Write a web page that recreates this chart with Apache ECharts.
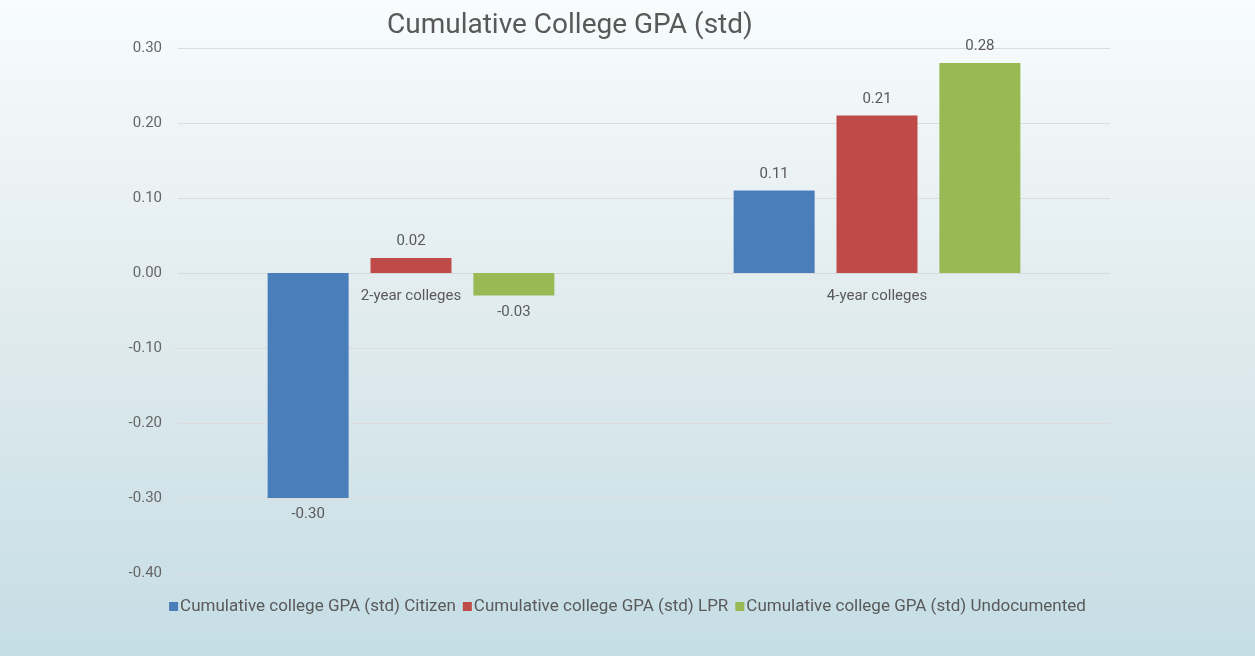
<!DOCTYPE html>
<html>
<head>
<meta charset="utf-8">
<script src="https://cdn.jsdelivr.net/npm/echarts@6/dist/echarts.min.js"></script>
<style>
  html, body { margin: 0; padding: 0; background: #fff; }
  #chart { width: 1255px; height: 656px; }
</style>
</head>
<body>
<div id="chart"></div>
<script>
const categories = ['2-year colleges', '4-year colleges'];
const seriesNames = [
  'Cumulative college GPA (std) Citizen',
  'Cumulative college GPA (std) LPR',
  'Cumulative college GPA (std) Undocumented'
];
const citizen = [-0.30, 0.11];
const lpr = [0.02, 0.21];
const undocumented = [-0.03, 0.28];
const colors = ['#4a7ebb', '#be4b48', '#98b954'];

const txt = '#595959';
const font = 'Roboto';

const chart = echarts.init(document.getElementById('chart'));

function makeSeries(name, values, color) {
  return {
    name: name,
    type: 'bar',
    barWidth: 81,
    barGap: '27%',
    itemStyle: { color: color },
    data: values.map(v => ({
      value: v,
      label: { position: v < 0 ? 'bottom' : 'top' }
    })),
    label: {
      show: true,
      color: txt,
      fontFamily: font,
      fontSize: 15,
      distance: 9,
      formatter: p => p.value.toFixed(2)
    }
  };
}

const option = {
  backgroundColor: new echarts.graphic.LinearGradient(0, 0, 0, 1, [
    { offset: 0, color: '#f8fcfd' },
    { offset: 0.45, color: '#e2ecef' },
    { offset: 1, color: '#c5dde5' }
  ]),
  title: {
    text: 'Cumulative College GPA (std)',
    left: 382,
    top: 7,
    textStyle: { color: txt, fontFamily: font, fontSize: 28, fontWeight: 'normal' }
  },
  legend: {
    top: 593,
    left: 'center',
    itemWidth: 9,
    itemHeight: 9,
    itemGap: 7,
    icon: 'rect',
    textStyle: { color: txt, fontFamily: font, fontSize: 17, padding: [0, 0, 0, -3] },
    data: seriesNames
  },
  grid: { left: 178, right: 145, top: 48, bottom: 83 },
  xAxis: {
    type: 'category',
    data: categories,
    offset: -300,
    axisTick: { show: false },
    axisLine: { show: true, onZero: false, lineStyle: { color: '#d9d9d9' } },
    axisLabel: { color: txt, fontFamily: font, fontSize: 15, margin: 16 }
  },
  yAxis: {
    type: 'value',
    min: -0.4,
    max: 0.3,
    interval: 0.1,
    axisLine: { show: false },
    axisTick: { show: false },
    splitLine: { lineStyle: { color: '#dcdcdc' } },
    axisLabel: {
      color: '#666',
      fontFamily: font,
      fontSize: 15,
      margin: 16,
      formatter: v => v.toFixed(2)
    }
  },
  series: [
    makeSeries(seriesNames[0], citizen, colors[0]),
    makeSeries(seriesNames[1], lpr, colors[1]),
    makeSeries(seriesNames[2], undocumented, colors[2])
  ]
};

chart.setOption(option);
</script>
</body>
</html>
